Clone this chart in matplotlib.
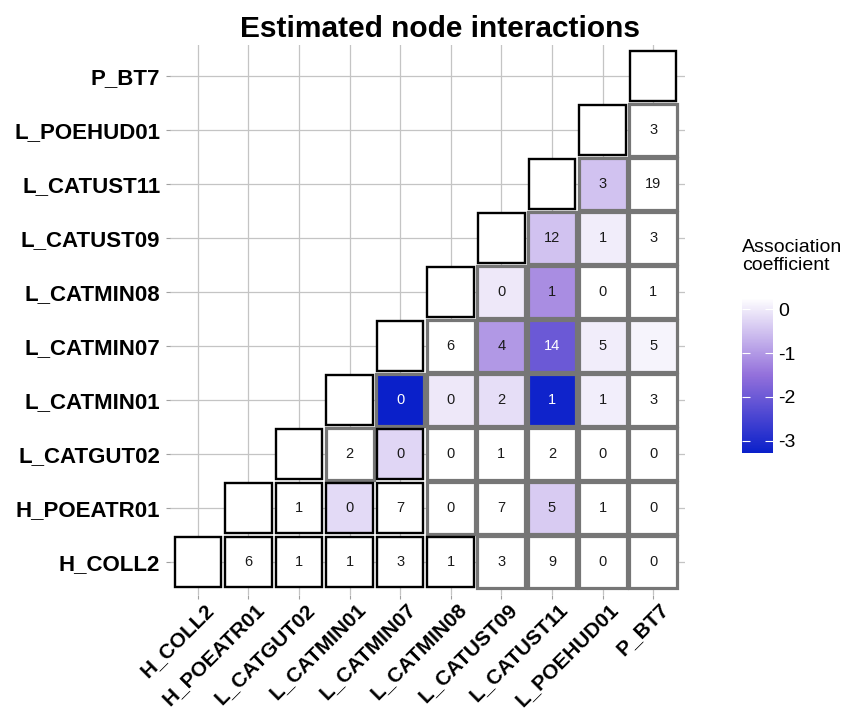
import numpy as np
import matplotlib.pyplot as plt
import matplotlib.transforms as mtransforms
from matplotlib.colors import LinearSegmentedColormap, Normalize
from matplotlib.patches import Rectangle
from matplotlib.cm import ScalarMappable

plt.rcParams['font.family'] = ['Liberation Sans', 'DejaVu Sans']
plt.rcParams['axes.unicode_minus'] = False

# Nodes, bottom-to-top / left-to-right
nodes = ['H_COLL2', 'H_POEATR01', 'L_CATGUT02', 'L_CATMIN01', 'L_CATMIN07',
         'L_CATMIN08', 'L_CATUST09', 'L_CATUST11', 'L_POEHUD01', 'P_BT7']

# Counts printed in cells: counts[i] covers columns i+1 .. 9
counts = [
    [6, 1, 1, 3, 1, 3, 9, 0, 0],
    [1, 0, 7, 0, 7, 5, 1, 0],
    [2, 0, 0, 1, 2, 0, 0],
    [0, 0, 2, 1, 1, 3],
    [6, 4, 14, 5, 5],
    [0, 1, 0, 1],
    [12, 1, 3],
    [3, 19],
    [3],
]

# Association coefficient (nan = not estimated, drawn white)
nan = np.nan
coefs = [
    [nan] * 9,
    [nan, -0.2, nan, nan, nan, -0.38, nan, nan],
    [nan, -0.25, nan, nan, nan, nan, nan],
    [-3.28, -0.02, -0.15, -3.2, 0.05, nan],
    [nan, -1.0, -2.02, 0.03, 0.11],
    [-0.02, -1.15, nan, nan],
    [-0.49, 0.03, nan],
    [-0.5, nan],
    [nan],
]

# Pairs (row, col) outlined in black besides the diagonal
black_pairs = [(0, 1), (0, 2), (0, 3), (0, 4), (0, 5),
               (1, 2), (1, 3), (1, 4), (2, 4)]

vmin, vmax = -3.28, 0.26
norm = Normalize(vmin, vmax)
mid_pos = (-1.5 - vmin) / (vmax - vmin)
cmap = LinearSegmentedColormap.from_list(
    'assoc', [(0, '#0A20CA'), (mid_pos, '#9370DB'), (1, '#FFFFFF')])
cmap.set_bad('white')

fig = plt.figure(figsize=(8.45, 7.13), dpi=100)
ax = fig.add_axes([170/845, 1-595/713, 515/845, 550/713])

n = len(nodes)
bw, bh = 0.92, 0.93     # black tiles
gw, gh = 0.95, 0.955    # gray tiles

# Gray-outlined tiles first, black ones on top
cells = []
for i in range(n):
    for k, j in enumerate(range(i+1, n)):
        cells.append((i, j, counts[i][k], coefs[i][k]))

for i, j, cnt, c in cells:
    black = (i, j) in black_pairs
    fc = 'white' if np.isnan(c) else cmap(norm(c))
    w, h = (bw, bh) if black else (gw, gh)
    ax.add_patch(Rectangle((j - w/2, i - h/2), w, h, facecolor=fc,
                           edgecolor='black' if black else '#767676',
                           lw=1.7 if black else 2.3,
                           zorder=4 if black else 3))
    txt_col = 'white' if (not np.isnan(c) and c < -1.8) else '#1a1a1a'
    ax.text(j, i, str(cnt), ha='center', va='center', fontsize=10.5,
            color=txt_col, zorder=5)

# Diagonal
for i in range(n):
    ax.add_patch(Rectangle((i - bw/2, i - bh/2), bw, bh, facecolor='white',
                           edgecolor='black', lw=1.7, zorder=4))

ax.set_xlim(-0.55, 9.63)
ax.set_ylim(-0.61, 9.57)
ax.set_xticks(range(n))
ax.set_yticks(range(n))
ax.set_xticklabels(nodes, rotation=45, ha='right', va='top',
                   rotation_mode='anchor', fontsize=15, fontweight='bold')
ax.set_yticklabels(nodes, fontsize=16, fontweight='bold')
ax.grid(True, color='#C4C4C4', lw=0.9, zorder=0)
ax.set_axisbelow(True)
for s in ax.spines.values():
    s.set_visible(False)
ax.tick_params(length=3, width=0.8, color='#A0A0A0', pad=4)

# nudge the rotated labels to the right / up like the original
shift = mtransforms.ScaledTranslation(6/100, 5/100, fig.dpi_scale_trans)
for lbl in ax.get_xticklabels():
    lbl.set_transform(lbl.get_transform() + shift)

fig.text(440/845, 1-37/713, 'Estimated node interactions', ha='center',
         va='baseline', fontsize=21.5, fontweight='bold')

# Colourbar legend
cax = fig.add_axes([742/845, 1-453/713, 31/845, 155/713])
sm = ScalarMappable(norm=norm, cmap=cmap)
cb = fig.colorbar(sm, cax=cax, ticks=[0, -1, -2, -3])
cb.outline.set_visible(False)
cax.tick_params(left=True, right=True, direction='in', length=6,
                width=0.8, colors='white', labelsize=14, pad=4)
for lbl in cax.get_yticklabels():
    lbl.set_color('black')
fig.text(742/845, 1-239/713, 'Association\ncoefficient', ha='left',
         va='top', fontsize=14, linespacing=1.05)

fig.savefig('out.png', dpi=100)
